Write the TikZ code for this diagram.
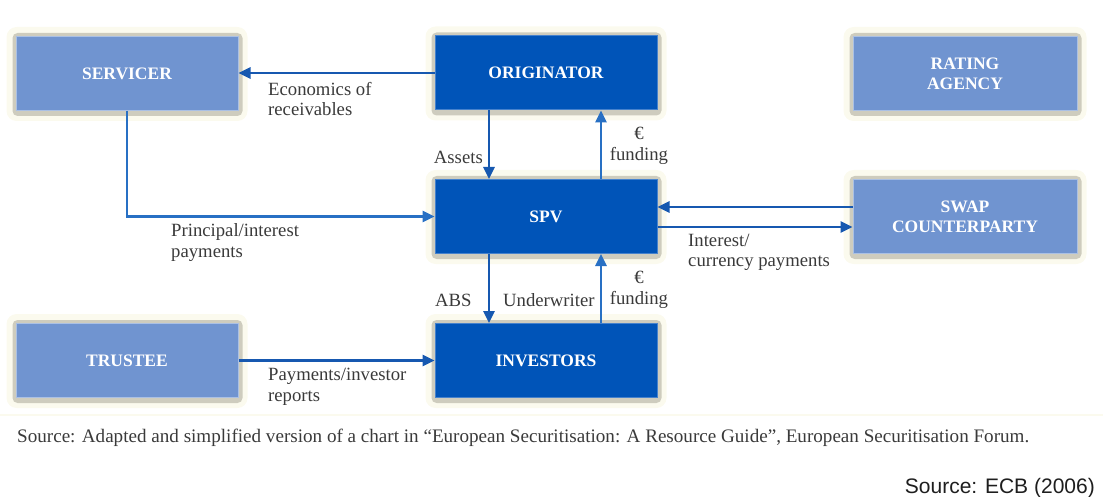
\documentclass[tikz,border=0pt]{standalone}
\usepackage{fontspec}
\setmainfont{Liberation Serif}
\newfontfamily\arialfont{Liberation Sans}
\usetikzlibrary{arrows.meta,backgrounds,calc}

\definecolor{darkbox}{RGB}{0,84,184}
\definecolor{darkedge}{RGB}{70,130,205}
\definecolor{lightbox}{RGB}{112,148,208}
\definecolor{lightedge}{RGB}{170,192,228}
\definecolor{arrowblue}{RGB}{22,88,176}
\definecolor{arrowlight}{RGB}{40,112,196}
\definecolor{halo}{RGB}{206,204,190}
\definecolor{glow}{RGB}{251,250,238}
\definecolor{labelgray}{RGB}{58,58,58}
\definecolor{sourceblack}{RGB}{30,30,30}

\tikzset{
  entity/.style={minimum width=222pt, minimum height=74pt, inner sep=0pt,
    text=white, align=center, line width=1pt,
    font=\rmfamily\bfseries\fontsize{17.5}{20}\selectfont},
  darkentity/.style={entity, fill=darkbox, draw=darkedge},
  lightentity/.style={entity, fill=lightbox, draw=lightedge},
  flow/.style={draw=arrowblue, line width=2.6pt,
    -{Triangle[length=12pt,width=11pt]}},
  flowlight/.style={flow, draw=arrowlight},
  lbl/.style={text=labelgray, inner sep=0pt, align=left,
    font=\rmfamily\fontsize{18.7}{20.5}\selectfont},
  clbl/.style={lbl, align=center}
}

\begin{document}
\begin{tikzpicture}[x=1pt, y=-1pt]
\useasboundingbox (0,0) rectangle (1103,497);

% parties of the securitisation
\node[lightentity] (srv) at (127,73.5)  {SERVICER};
\node[darkentity]  (org) at (546,73)    {ORIGINATOR};
\node[lightentity, minimum width=224pt] (rat) at (965,73.5) {RATING\\AGENCY};
\node[darkentity]  (spv) at (546,216.5) {SPV};
\node[lightentity, minimum width=224pt] (swp) at (965,216.5) {SWAP\\COUNTERPARTY};
\node[lightentity] (tru) at (127,360.5) {TRUSTEE};
\node[darkentity]  (inv) at (546,360.5) {INVESTORS};

% soft halo behind every box
\begin{scope}[on background layer]
  \foreach \n in {srv,org,rat,spv,swp,tru,inv}{
    \fill[glow, rounded corners=10pt]
      ($(\n.north west)+(-9,-9)$) rectangle ($(\n.south east)+(9,10)$);
    \fill[halo, rounded corners=5pt]
      ($(\n.north west)+(-3,-3)$) rectangle ($(\n.south east)+(4,5)$);
  }
  \draw[glow, line width=2pt] (0,415) -- (1103,415);
\end{scope}

% flows
\draw[flow] (org.west) -- (org.west -| srv.east);
\draw[flow] ([xshift=-57pt]org.south) -- ([xshift=-57pt]spv.north);
\draw[flowlight] ([xshift=55pt]spv.north) -- ([xshift=55pt]org.south);
\draw[flowlight] (srv.south) |- (spv.west);
\draw[flow] ([yshift=9.5pt]swp.west) -- ([yshift=9.5pt]spv.east);
\draw[flow] ([yshift=-10.5pt]spv.east) -- ([yshift=-10.5pt]swp.west);
\draw[flow] ([xshift=-57pt]spv.south) -- ([xshift=-57pt]inv.north);
\draw[flowlight] ([xshift=55pt]inv.north) -- ([xshift=55pt]spv.south);
\draw[flow] (tru.east) -- (inv.west);

% flow labels
\node[lbl, anchor=west] (l1) at (268,99) {Economics of\\receivables};
\node[lbl, anchor=east] (l2) at (483,157) {Assets};
\node[clbl] (l3) at (639,146) {€\\funding};
\node[lbl, anchor=west] (l4) at (171,242.5) {Principal/interest\\payments};
\node[lbl, anchor=west] (l5) at (688,252.5) {Interest/\\currency payments};
\node[lbl, anchor=west] (l6) at (435,300) {ABS};
\node[lbl, anchor=west] (l7) at (503,300) {Underwriter};
\node[clbl] (l8) at (639,290) {€\\funding};
\node[lbl, anchor=west] (l9) at (268,387) {Payments/investor\\reports};

% sources
\node[lbl, anchor=west, font=\rmfamily\fontsize{19.1}{21}\selectfont] (src) at (17,438)
  {Source: Adapted and simplified version of a chart in “European Securitisation: A Resource Guide”, European Securitisation Forum.};
\node[anchor=east, inner sep=0pt, text=sourceblack, font=\arialfont\fontsize{21}{24}\selectfont] (ecb) at (1095,488)
  {Source: ECB (2006)};
\end{tikzpicture}
\end{document}
